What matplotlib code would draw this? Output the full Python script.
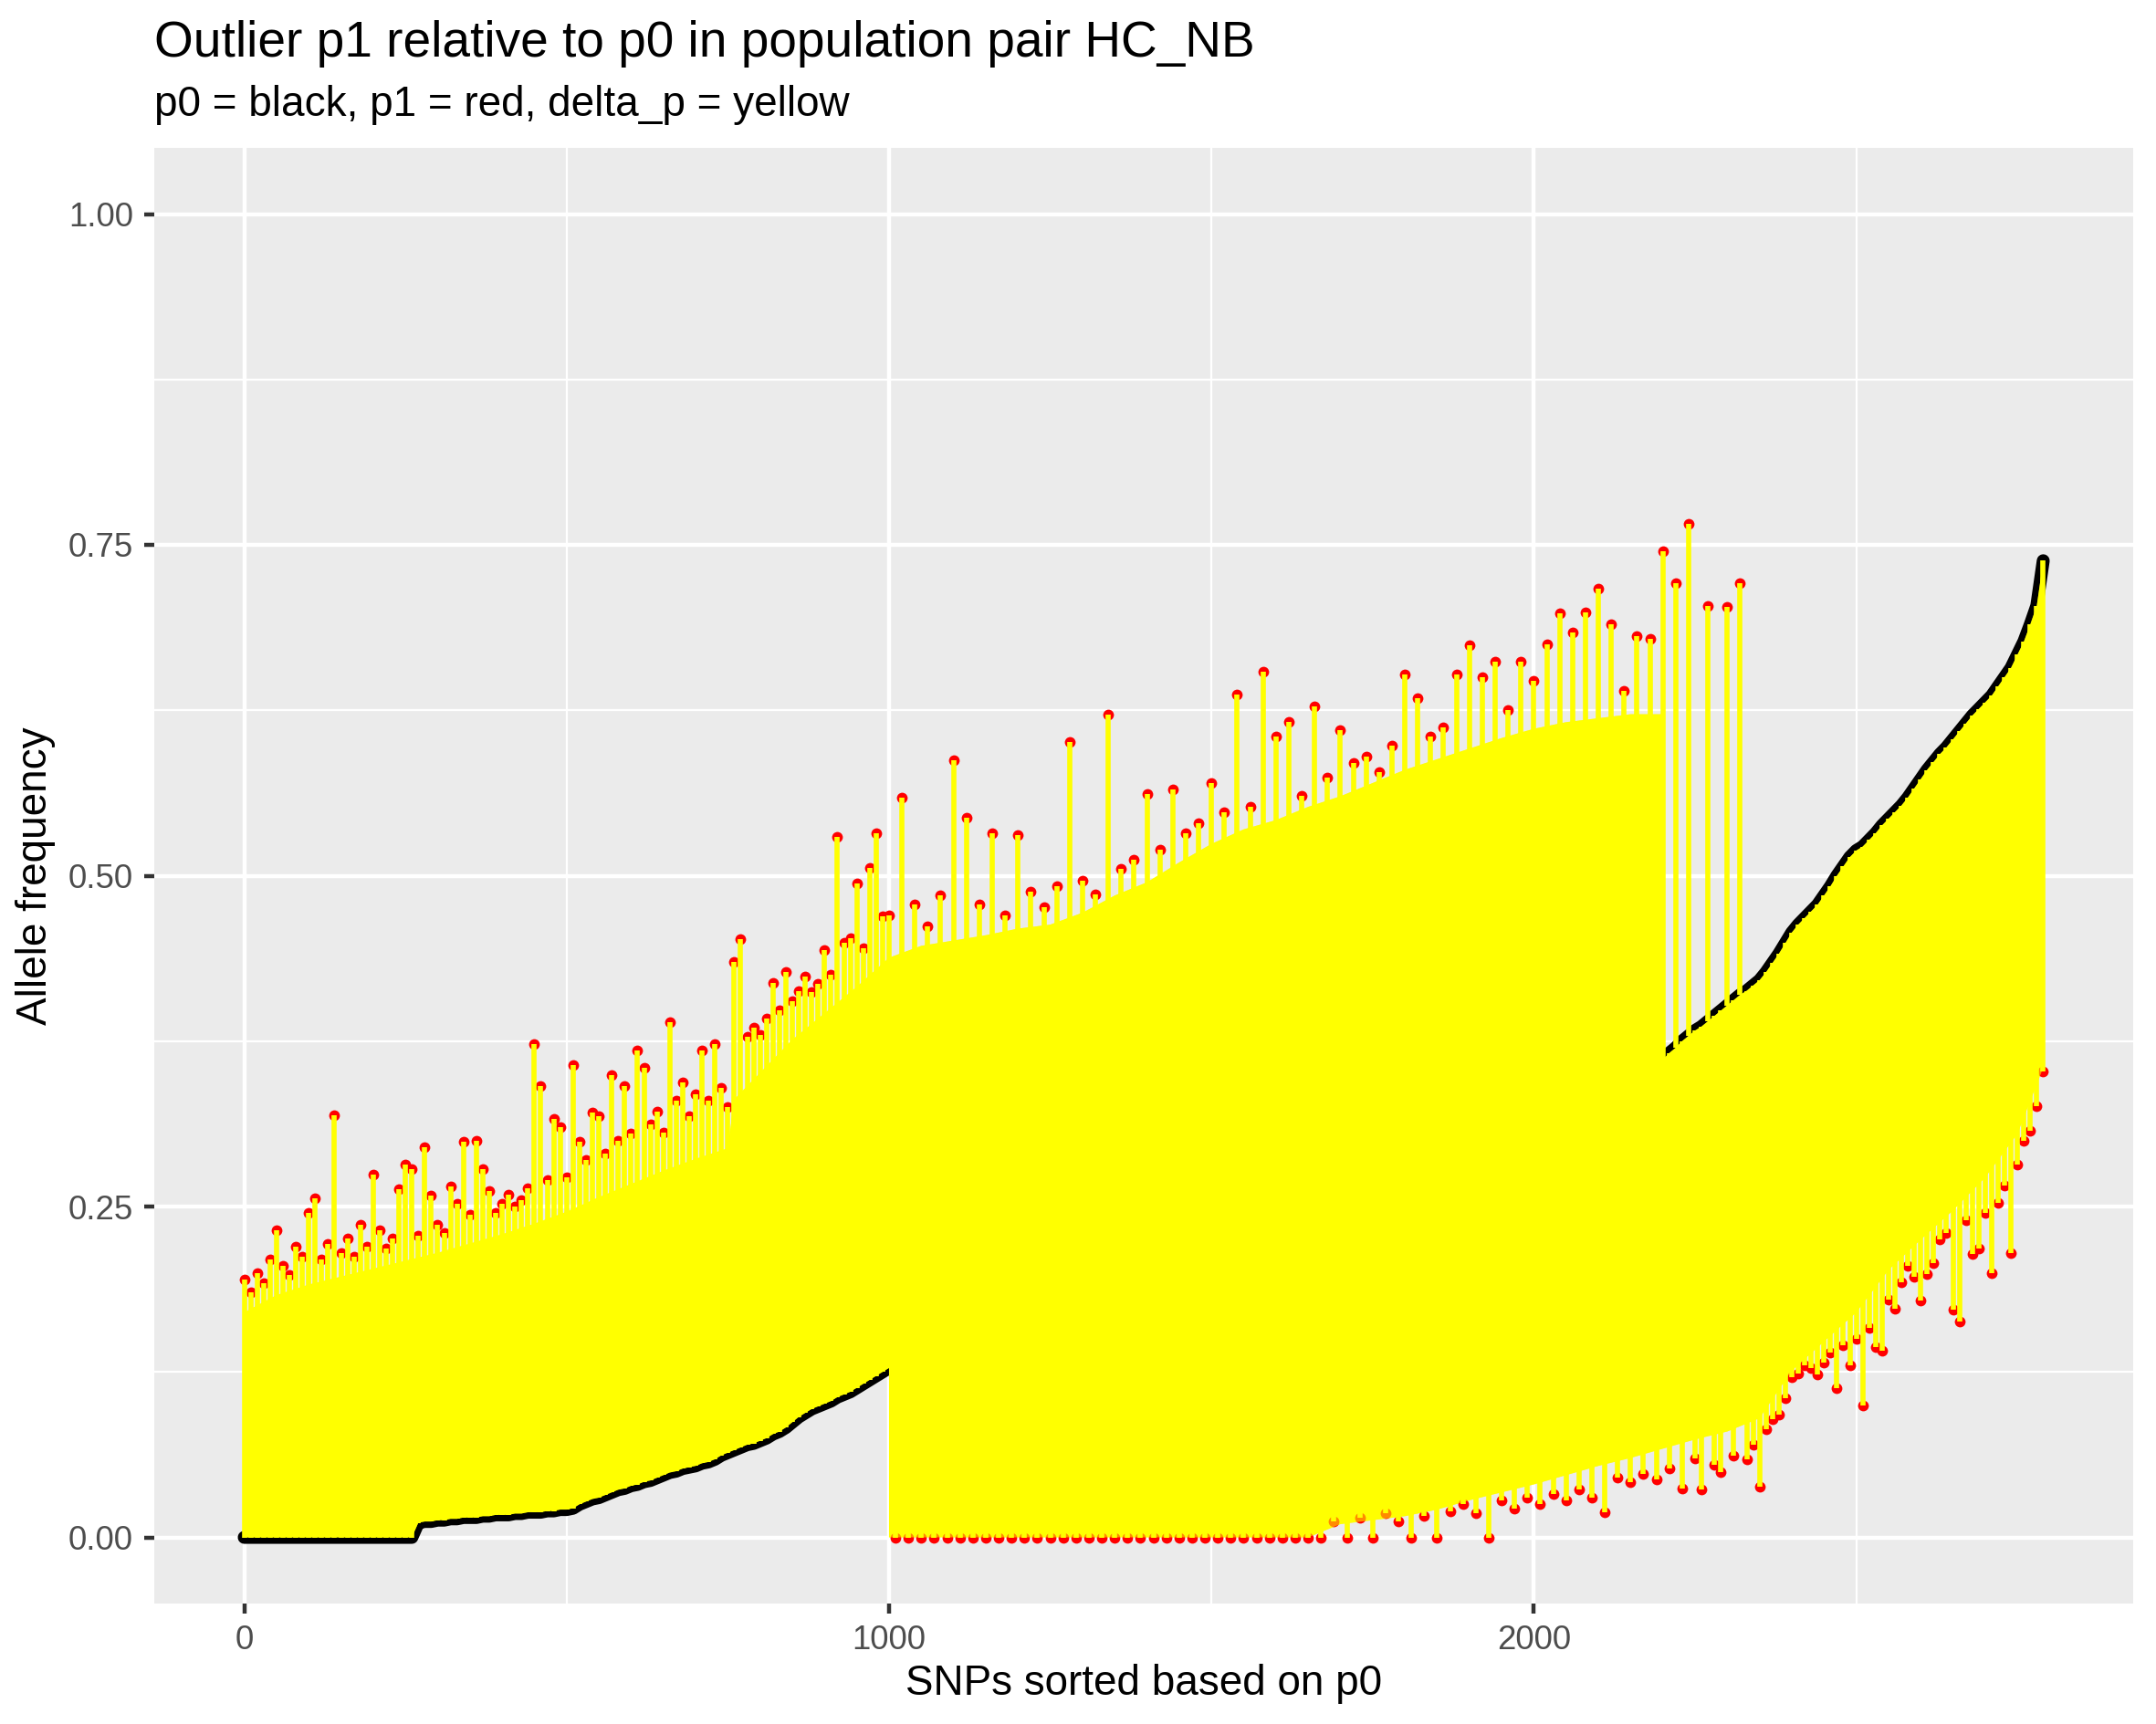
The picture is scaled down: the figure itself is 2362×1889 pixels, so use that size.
import numpy as np
import matplotlib
matplotlib.use("Agg")
import matplotlib.pyplot as plt
from matplotlib.ticker import FixedLocator, FormatStrFormatter

plt.rcParams['font.family'] = ['Liberation Sans', 'DejaVu Sans']

# SNP rank (every 10th SNP, sorted on p0)
snp = np.arange(0, 2800, 10)

# p0
p0 = [
    0, 0, 0, 0, 0, 0, 0, 0, 0, 0,                                             # 0-90
    0, 0, 0, 0, 0, 0, 0, 0, 0, 0,                                             # 100-190
    0, 0, 0, 0, 0, 0, 0, 0.011, 0.012, 0.012,                                 # 200-290
    0.013, 0.013, 0.014, 0.014, 0.015, 0.015, 0.015, 0.016, 0.016, 0.017,     # 300
    0.017, 0.017, 0.018, 0.018, 0.019, 0.019, 0.019, 0.020, 0.020, 0.021,     # 400
    0.021, 0.022, 0.025, 0.027, 0.029, 0.030, 0.032, 0.034, 0.036, 0.037,     # 500
    0.039, 0.040, 0.042, 0.043, 0.045, 0.047, 0.049, 0.050, 0.052, 0.053,     # 600
    0.054, 0.056, 0.057, 0.059, 0.062, 0.064, 0.066, 0.068, 0.070, 0.071,     # 700
    0.073, 0.075, 0.078, 0.080, 0.083, 0.087, 0.091, 0.094, 0.097, 0.099,     # 800
    0.101, 0.103, 0.106, 0.108, 0.110, 0.113, 0.116, 0.119, 0.122, 0.125,     # 900
    0.128, 0.131, 0.134, 0.138, 0.141, 0.143, 0.145, 0.147, 0.148, 0.150,     # 1000
    0.152, 0.154, 0.155, 0.157, 0.159, 0.160, 0.162, 0.163, 0.165, 0.166,     # 1100
    0.167, 0.169, 0.170, 0.172, 0.174, 0.175, 0.176, 0.177, 0.178, 0.179,     # 1200
    0.181, 0.182, 0.183, 0.185, 0.186, 0.187, 0.188, 0.190, 0.191, 0.192,     # 1300
    0.194, 0.195, 0.196, 0.197, 0.199, 0.200, 0.201, 0.203, 0.204, 0.205,     # 1400
    0.206, 0.207, 0.208, 0.209, 0.211, 0.212, 0.213, 0.214, 0.215, 0.217,     # 1500
    0.218, 0.220, 0.221, 0.223, 0.224, 0.226, 0.227, 0.229, 0.230, 0.232,     # 1600
    0.233, 0.235, 0.236, 0.238, 0.240, 0.241, 0.243, 0.244, 0.246, 0.248,     # 1700
    0.250, 0.251, 0.253, 0.255, 0.257, 0.259, 0.261, 0.263, 0.265, 0.267,     # 1800
    0.270, 0.272, 0.275, 0.277, 0.280, 0.282, 0.284, 0.287, 0.289, 0.291,     # 1900
    0.293, 0.296, 0.298, 0.301, 0.303, 0.306, 0.309, 0.311, 0.314, 0.316,     # 2000
    0.319, 0.322, 0.325, 0.329, 0.335, 0.341, 0.346, 0.350, 0.353, 0.357,     # 2100
    0.361, 0.366, 0.370, 0.375, 0.379, 0.383, 0.386, 0.390, 0.394, 0.398,     # 2200
    0.402, 0.406, 0.410, 0.413, 0.417, 0.421, 0.427, 0.434, 0.441, 0.449,     # 2300
    0.457, 0.463, 0.468, 0.473, 0.478, 0.485, 0.492, 0.500, 0.507, 0.514,     # 2400
    0.519, 0.522, 0.527, 0.532, 0.538, 0.543, 0.548, 0.553, 0.559, 0.566,     # 2500
    0.573, 0.580, 0.586, 0.592, 0.597, 0.603, 0.609, 0.615, 0.621, 0.626,     # 2600
    0.631, 0.636, 0.643, 0.650, 0.657, 0.667, 0.677, 0.690, 0.704, 0.738,     # 2700
]

# p1 (red points)
p1 = [
    0.195, 0.185, 0.200, 0.192, 0.210, 0.232, 0.205, 0.198, 0.220, 0.212,     # 0
    0.245, 0.256, 0.210, 0.222, 0.319, 0.215, 0.226, 0.212, 0.236, 0.220,     # 100
    0.274, 0.232, 0.218, 0.226, 0.263, 0.282, 0.278, 0.228, 0.295, 0.258,     # 200
    0.236, 0.230, 0.265, 0.252, 0.299, 0.244, 0.300, 0.278, 0.262, 0.245,     # 300
    0.252, 0.259, 0.250, 0.255, 0.264, 0.373, 0.341, 0.270, 0.316, 0.310,     # 400
    0.272, 0.357, 0.299, 0.285, 0.321, 0.318, 0.290, 0.349, 0.300, 0.341,     # 500
    0.305, 0.368, 0.355, 0.312, 0.322, 0.306, 0.389, 0.330, 0.344, 0.318,     # 600
    0.335, 0.368, 0.330, 0.373, 0.340, 0.325, 0.435, 0.452, 0.378, 0.385,     # 700
    0.380, 0.392, 0.419, 0.398, 0.427, 0.405, 0.413, 0.424, 0.412, 0.418,     # 800
    0.444, 0.425, 0.529, 0.449, 0.453, 0.494, 0.445, 0.506, 0.532, 0.469,     # 900
    0.470, 0.0, 0.559, 0.0, 0.478, 0.0, 0.462, 0.0, 0.485, 0.0,               # 1000
    0.587, 0.0, 0.544, 0.0, 0.478, 0.0, 0.532, 0.0, 0.470, 0.0,               # 1100
    0.531, 0.0, 0.488, 0.0, 0.476, 0.0, 0.492, 0.0, 0.601, 0.0,               # 1200
    0.496, 0.0, 0.486, 0.0, 0.622, 0.0, 0.505, 0.0, 0.512, 0.0,               # 1300
    0.562, 0.0, 0.520, 0.0, 0.565, 0.0, 0.532, 0.0, 0.540, 0.0,               # 1400
    0.570, 0.0, 0.548, 0.0, 0.637, 0.0, 0.552, 0.0, 0.654, 0.0,               # 1500
    0.605, 0.0, 0.616, 0.0, 0.560, 0.0, 0.628, 0.0, 0.574, 0.012,             # 1600
    0.610, 0.0, 0.585, 0.015, 0.590, 0.0, 0.578, 0.018, 0.598, 0.012,         # 1700
    0.652, 0.0, 0.634, 0.016, 0.605, 0.0, 0.612, 0.020, 0.652, 0.025,         # 1800
    0.674, 0.018, 0.650, 0.0, 0.662, 0.028, 0.625, 0.022, 0.662, 0.030,       # 1900
    0.647, 0.025, 0.675, 0.033, 0.698, 0.028, 0.684, 0.036, 0.699, 0.030,     # 2000
    0.717, 0.019, 0.690, 0.045, 0.640, 0.042, 0.681, 0.048, 0.679, 0.044,     # 2100
    0.745, 0.052, 0.721, 0.037, 0.766, 0.060, 0.036, 0.704, 0.055, 0.049,     # 2200
    0.703, 0.062, 0.721, 0.059, 0.070, 0.038, 0.082, 0.089, 0.093, 0.105,     # 2300
    0.121, 0.124, 0.130, 0.128, 0.123, 0.132, 0.140, 0.113, 0.145, 0.130,     # 2400
    0.150, 0.100, 0.158, 0.144, 0.141, 0.180, 0.173, 0.193, 0.205, 0.197,     # 2500
    0.179, 0.199, 0.207, 0.225, 0.230, 0.172, 0.163, 0.240, 0.214, 0.218,     # 2600
    0.245, 0.200, 0.253, 0.266, 0.215, 0.282, 0.300, 0.307, 0.326, 0.352,     # 2700
]

# edges of the solid yellow mass (the bulk of the segments, below the fringe of dots)
hi_snp = [0, 50, 100, 150, 200, 250, 300, 350, 400, 450, 500, 550, 600, 650, 700, 750, 760,
          800, 850, 900, 950, 1000, 1050, 1100, 1150, 1200, 1250, 1300, 1350, 1400, 1450,
          1500, 1550, 1600, 1650, 1700, 1750, 1800, 1850, 1900, 1950, 2000, 2050, 2100,
          2150, 2200]
hi_val = [0.170, 0.183, 0.191, 0.197, 0.203, 0.209, 0.215, 0.222, 0.229, 0.237, 0.246, 0.257,
          0.267, 0.277, 0.286, 0.294, 0.331, 0.351, 0.376, 0.396, 0.416, 0.438, 0.447, 0.451,
          0.455, 0.460, 0.463, 0.472, 0.485, 0.495, 0.510, 0.524, 0.535, 0.542, 0.552, 0.560,
          0.570, 0.580, 0.588, 0.596, 0.604, 0.611, 0.616, 0.619, 0.622, 0.622]
lo_snp = [1000, 1050, 1100, 1150, 1200, 1250, 1300, 1350, 1400, 1450, 1500, 1550, 1600, 1650,
          1700, 1750, 1800, 1850, 1900, 1950, 2000, 2050, 2100, 2150, 2200, 2250, 2300, 2350,
          2400, 2450, 2500, 2550, 2600, 2650, 2700, 2750, 2790]
lo_val = [0, 0, 0, 0, 0, 0, 0, 0, 0, 0, 0, 0, 0, 0,
          0.010, 0.013, 0.016, 0.021, 0.028, 0.034, 0.040, 0.047, 0.054, 0.060, 0.067, 0.074,
          0.080, 0.090, 0.126, 0.148, 0.170, 0.202, 0.225, 0.247, 0.272, 0.305, 0.355]

p0 = np.array(p0)
p1 = np.array(p1)
assert len(p0) == len(snp) == len(p1)

# outline of the yellow mass: lower path then upper path back
left = snp <= lo_snp[0]
right = snp >= hi_snp[-1]
lo_x = np.concatenate([snp[left], lo_snp])
lo_y = np.concatenate([p0[left], lo_val])
hi_x = np.concatenate([hi_snp, snp[right]])
hi_y = np.concatenate([hi_val, p0[right]])
poly_x = np.concatenate([lo_x, hi_x[::-1]])
poly_y = np.concatenate([lo_y, hi_y[::-1]])

W, H = 2362, 1889
fig = plt.figure(figsize=(W / 300, H / 300), dpi=300)
ax = fig.add_axes([169 / W, 1 - 1757 / H, (2337 - 169) / W, (1757 - 162) / H])
ax.set_facecolor('#EBEBEB')
for s in ax.spines.values():
    s.set_visible(False)

ax.plot(snp, p0, color='black', lw=3.4, solid_capstyle='round', zorder=2)
ax.fill(poly_x, poly_y, color='#FFFF00', lw=0, zorder=3)
ax.scatter(snp, p1, s=8, color='red', lw=0, zorder=4)
ax.fill(poly_x, poly_y, color='#FFFF00', alpha=0.55, lw=0, zorder=5)
ax.vlines(snp, p0, p1, color='#FFFF00', lw=1.35, zorder=6)

span = snp.max() - snp.min()
ax.set_xlim(snp.min() - 0.05 * span, snp.max() + 0.05 * span)
ax.set_ylim(-0.05, 1.05)

ax.xaxis.set_major_locator(FixedLocator([0, 1000, 2000]))
ax.xaxis.set_minor_locator(FixedLocator([500, 1500, 2500]))
ax.yaxis.set_major_locator(FixedLocator([0, 0.25, 0.5, 0.75, 1.0]))
ax.yaxis.set_minor_locator(FixedLocator([0.125, 0.375, 0.625, 0.875]))
ax.yaxis.set_major_formatter(FormatStrFormatter('%.2f'))
ax.grid(which='major', color='white', lw=1.07)
ax.grid(which='minor', color='white', lw=0.53)
ax.set_axisbelow(True)
ax.tick_params(which='major', length=2.64, width=1.07, color='#333333', pad=2.9,
               labelsize=8.8, labelcolor='#4D4D4D')
ax.tick_params(which='minor', length=0)

fig.text(169 / W, 1 - 62 / H, 'Outlier p1 relative to p0 in population pair HC_NB',
         fontsize=13.2, va='baseline', ha='left')
fig.text(169 / W, 1 - 127 / H, 'p0 = black, p1 = red, delta_p = yellow',
         fontsize=11, va='baseline', ha='left')
fig.text(1253 / W, 1 - 1857 / H, 'SNPs sorted based on p0', fontsize=11,
         va='baseline', ha='center')
fig.text(39 / W, 1 - 960 / H, 'Allele frequency', fontsize=11, rotation=90,
         va='center', ha='center')

fig.savefig('out.png', dpi=300)
